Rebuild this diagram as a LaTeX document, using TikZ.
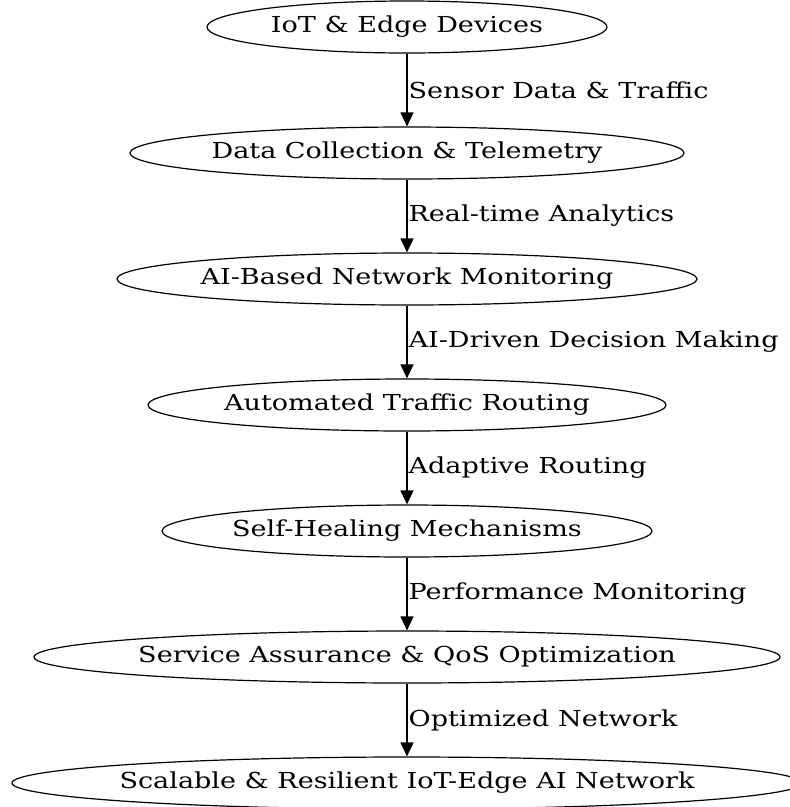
\documentclass[tikz,border=0pt]{standalone}
\usepackage{fontspec}
\setmainfont{DejaVu Serif}[FakeStretch=1.23]
\usetikzlibrary{shapes.geometric, positioning, arrows.meta}
\begin{document}
\begin{tikzpicture}[->, >={Triangle[length=14pt,width=13pt]}, node distance=126pt, line width=1.2pt]
            \tikzstyle{stage} = [ellipse, draw, text centered, minimum height=52pt, inner xsep=-20pt, inner ysep=0pt, font=\fontsize{22}{26}\selectfont]
            \tikzstyle{flow} = [right, inner sep=1pt, font=\fontsize{22}{26}\selectfont]

            \useasboundingbox (-407pt,27pt) rectangle (383pt,-780pt);

            % Nodes
            \node[stage, minimum width=400pt] (iot) {IoT \& Edge Devices};
            \node[stage, minimum width=554pt] (collect) [below of=iot] {Data Collection \& Telemetry};
            \node[stage, minimum width=580pt] (monitor) [below of=collect] {AI-Based Network Monitoring};
            \node[stage, minimum width=518pt] (routing) [below of=monitor] {Automated Traffic Routing};
            \node[stage, minimum width=490pt] (healing) [below of=routing] {Self-Healing Mechanisms};
            \node[stage, minimum width=746pt] (qos) [below of=healing] {Service Assurance \& QoS Optimization};
            \node[stage, minimum width=790pt] (network) [below of=qos] {Scalable \& Resilient IoT-Edge AI Network};

            % Edges
            \path (iot) edge node[flow] {Sensor Data \& Traffic} (collect);
            \path (collect) edge node[flow] {Real-time Analytics} (monitor);
            \path (monitor) edge node[flow] {AI-Driven Decision Making} (routing);
            \path (routing) edge node[flow] {Adaptive Routing} (healing);
            \path (healing) edge node[flow] {Performance Monitoring} (qos);
            \path (qos) edge node[flow] {Optimized Network} (network);

        \end{tikzpicture}
\end{document}
